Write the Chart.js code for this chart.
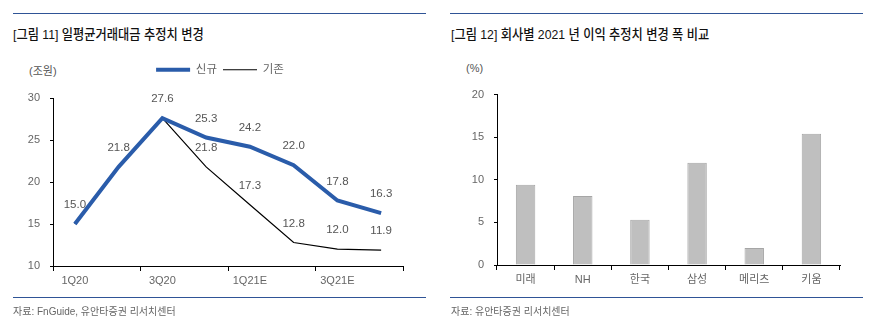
<!DOCTYPE html>
<html>
<head>
<meta charset="utf-8">
<script src="https://cdn.jsdelivr.net/npm/chart.js@4/dist/chart.umd.min.js"></script>
<style>
  body { margin: 0; background: #fff; width: 884px; height: 331px; position: relative; overflow: hidden;
         font-family: "Liberation Sans", "Noto Sans CJK KR", sans-serif; }
  .rule { position: absolute; height: 1px; background: #2f5496; }
  .title { position: absolute; font-size: 13.3px; font-weight: 500; color: #111; white-space: nowrap;
           transform: scaleX(0.92); transform-origin: left top; }
  .src { position: absolute; font-size: 10px; color: #666; white-space: nowrap; }
  .unit { position: absolute; font-size: 11px; color: #555; white-space: nowrap; }
  .box { position: absolute; top: 50px; height: 250px; }
</style>
</head>
<body>
<div class="rule" style="left:13px; top:13px; width:413px;"></div>
<div class="title" style="left:13px; top:24px;">[그림 11] 일평균거래대금 추정치 변경</div>
<div class="unit" style="left:29px; top:62px;">(조원)</div>
<div class="box" style="left:0; width:440px;"><canvas id="line_chart"></canvas></div>
<div class="rule" style="left:13px; top:297px; width:413px;"></div>
<div class="src" style="left:13px; top:303px;">자료: FnGuide, 유안타증권 리서치센터</div>

<div class="rule" style="left:450px; top:13px; width:413px;"></div>
<div class="title" style="left:451px; top:24px;">[그림 12] 회사별 2021 년 이익 추정치 변경 폭 비교</div>
<div class="unit" style="left:466px; top:62px;">(%)</div>
<div class="box" style="left:440px; width:444px;"><canvas id="bar_chart"></canvas></div>
<div class="rule" style="left:450px; top:297px; width:413px;"></div>
<div class="src" style="left:451px; top:303px;">자료: 유안타증권 리서치센터</div>

<script>
var quarters = ['1Q20', '2Q20', '3Q20', '4Q20', '1Q21E', '2Q21E', '3Q21E', '4Q21E'];
var new_est = [15.0, 21.8, 27.6, 25.3, 24.2, 22.0, 17.8, 16.3];
var old_est = [15.0, 21.8, 27.6, 21.8, 17.3, 12.8, 12.0, 11.9];

var brokers = ['미래', 'NH', '한국', '삼성', '메리츠', '키움'];
var change_pct = [9.4, 8.1, 5.3, 12.0, 2.0, 15.4];

var FONT = '"Liberation Sans", "Noto Sans CJK KR", sans-serif';
Chart.defaults.font.family = FONT;
Chart.defaults.font.size = 11;
Chart.defaults.color = '#666';
Chart.defaults.animation = false;

// number labels above the points, the old series skips points equal to the new one
var pointLabels = {
  id: 'pointLabels',
  afterDatasetsDraw: function(chart) {
    var ctx = chart.ctx;
    ctx.save();
    ctx.font = '11.5px ' + FONT;
    ctx.fillStyle = '#555';
    ctx.textAlign = 'center';
    ctx.textBaseline = 'middle';
    chart.data.datasets.forEach(function(ds, di) {
      var meta = chart.getDatasetMeta(di);
      meta.data.forEach(function(pt, i) {
        if (di == 1 && ds.data[i] == chart.data.datasets[0].data[i]) return;
        ctx.fillText(ds.data[i].toFixed(1), pt.x, pt.y - 19);
      });
    });
    ctx.restore();
  }
};

// fixed legend height and centre the items on the whole canvas width
var legendBox = {
  id: 'legendBox',
  beforeInit: function(chart) {
    var legend = chart.legend;
    var fit = legend.fit;
    legend.fit = function() {
      fit.call(this);
      this.height = 40;
    };
    ['adjustHitBoxes', 'draw'].forEach(function(name) {
      var orig = legend[name];
      legend[name] = function() {
        var r = this.right;
        this.right = chart.width;
        orig.apply(this, arguments);
        this.right = r;
      };
    });
  }
};

function fixWidth(w) { return function(scale) { scale.width = w; }; }
function fixHeight(h) { return function(scale) { scale.height = h; }; }

new Chart(document.getElementById('line_chart'), {
  type: 'line',
  data: {
    labels: quarters,
    datasets: [
      { label: '신규', data: new_est, borderColor: '#2a5caa', borderWidth: 4, pointRadius: 0, tension: 0 },
      { label: '기존', data: old_est, borderColor: '#000', borderWidth: 1.2, pointRadius: 0, tension: 0 }
    ]
  },
  options: {
    responsive: true,
    maintainAspectRatio: false,
    layout: { padding: { top: 8, right: 37, bottom: 4, left: 0 } },
    plugins: {
      legend: {
        labels: { usePointStyle: true, pointStyle: 'line', pointStyleWidth: 34, boxHeight: 11,
                  padding: 6, color: '#666', font: { size: 11.5 } }
      },
      tooltip: { enabled: false }
    },
    scales: {
      x: {
        offset: true,
        afterFit: fixHeight(30),
        border: { color: '#000', width: 1 },
        grid: { offset: true, drawOnChartArea: false, tickLength: 5,
                color: function(c) { return (c.index === undefined || c.index % 2 == 0) ? '#000' : 'rgba(0,0,0,0)'; } },
        ticks: { autoSkip: false, maxRotation: 0, padding: 3,
                 callback: function(v, i) { return i % 2 == 0 ? quarters[i] : ''; } }
      },
      y: {
        min: 10, max: 30,
        afterFit: fixWidth(53),
        border: { color: '#000', width: 1 },
        grid: { drawOnChartArea: false, tickLength: 3, color: '#000' },
        ticks: { stepSize: 5, padding: 10 }
      }
    }
  },
  plugins: [pointLabels, legendBox]
});

new Chart(document.getElementById('bar_chart'), {
  type: 'bar',
  data: {
    labels: brokers,
    datasets: [
      { label: '변경 폭', data: change_pct, backgroundColor: '#bfbfbf', borderColor: '#a6a6a6',
        borderWidth: 1, categoryPercentage: 1, barPercentage: 0.34 }
    ]
  },
  options: {
    responsive: true,
    maintainAspectRatio: false,
    layout: { padding: { top: 44.5, right: 44, bottom: 5, left: 0 } },
    plugins: { legend: { display: false }, tooltip: { enabled: false } },
    scales: {
      x: {
        afterFit: fixHeight(30),
        border: { color: '#000', width: 1 },
        grid: { offset: true, drawOnChartArea: false, tickLength: 5, color: '#000' },
        ticks: { maxRotation: 0, padding: 3 }
      },
      y: {
        min: 0, max: 20,
        afterFit: fixWidth(57),
        border: { color: '#000', width: 1 },
        grid: { drawOnChartArea: false, tickLength: 3, color: '#000' },
        ticks: { stepSize: 5, padding: 10 }
      }
    }
  }
});
</script>
</body>
</html>
